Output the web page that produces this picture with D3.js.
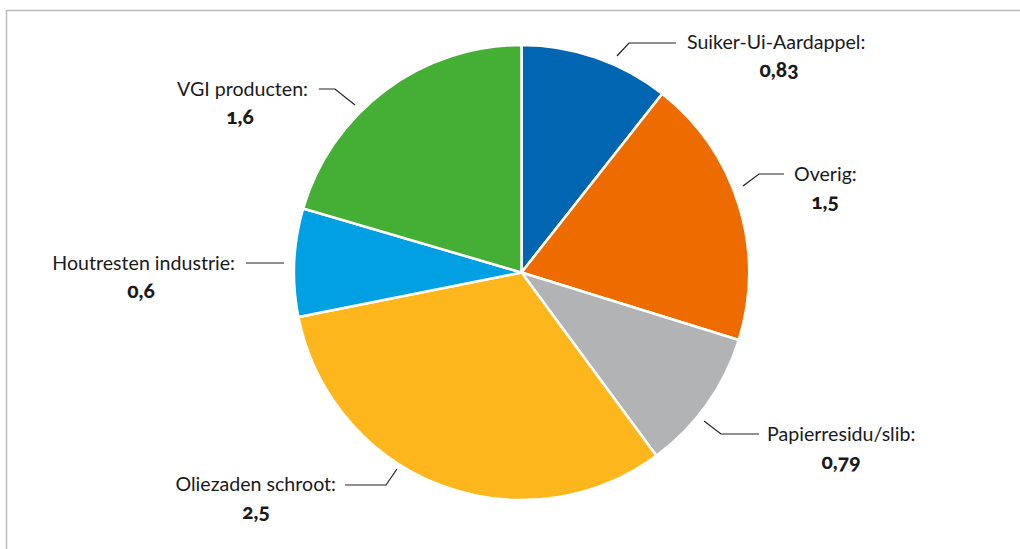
<!DOCTYPE html>
<html>
<head>
<meta charset="utf-8">
<script src="https://cdn.jsdelivr.net/npm/d3@7"></script>
<style>
  html, body { margin: 0; padding: 0; background: #fff; }
  svg { display: block; }
  .lbl { font-family: Lato, "Open Sans", sans-serif; font-size: 19.6px; fill: #1a1a1a; }
  .val { font-weight: 900; font-size: 21px; font-variant-numeric: oldstyle-nums; }
</style>
</head>
<body>
<svg id="chart" width="1020" height="549"></svg>
<script>
// Slice data, clockwise from 12 o'clock
const categories = ["Suiker-Ui-Aardappel", "Overig", "Papierresidu/slib", "Oliezaden schroot", "Houtresten industrie", "VGI producten"];
const values = [0.83, 1.5, 0.79, 2.5, 0.6, 1.6];
const valueLabels = ["0,83", "1,5", "0,79", "2,5", "0,6", "1,6"];
const colors = ["#0066B2", "#EE6B00", "#B2B3B5", "#FDB71C", "#00A0E2", "#45AE35"];

// Label placement: leader path points and text anchor for each slice
const labelLayout = [
  { pts: [[617, 56], [629, 43], [676, 43]], tx: 687, ty: 49, anchor: "start", vx: 779 },
  { pts: [[743, 186], [759, 174], [784, 174]], tx: 794, ty: 181, anchor: "start", vx: 825 },
  { pts: [[704, 421], [721, 434], [759, 434]], tx: 767, ty: 441, anchor: "start", vx: 841 },
  { pts: [[397, 469], [386, 485], [345, 485]], tx: 336, ty: 491, anchor: "end", vx: 256 },
  { pts: [[284, 263], [246, 263]], tx: 235, ty: 270, anchor: "end", vx: 141 },
  { pts: [[355, 105], [335, 89], [319, 89]], tx: 308, ty: 96, anchor: "end", vx: 240 }
];

const svg = d3.select("#chart");
const cx = 521.5, cy = 272.5, R = 227.5;

// Frame lines along the top and left
svg.append("line").attr("x1", 6).attr("x2", 1020).attr("y1", 10.5).attr("y2", 10.5)
  .attr("stroke", "#bdbdbd").attr("stroke-width", 1.5);
svg.append("line").attr("x1", 6.5).attr("x2", 6.5).attr("y1", 10).attr("y2", 549)
  .attr("stroke", "#bdbdbd").attr("stroke-width", 1.5);

const pie = d3.pie().sort(null).value(d => d.value);
const arc = d3.arc().innerRadius(0).outerRadius(R);
const rows = categories.map((c, i) => ({ name: c, value: values[i], label: valueLabels[i], color: colors[i] }));
const arcs = pie(rows);

const g = svg.append("g").attr("transform", `translate(${cx},${cy})`);
g.selectAll("path.slice").data(arcs).enter().append("path")
  .attr("class", "slice")
  .attr("d", arc)
  .attr("fill", d => d.data.color)
  .attr("stroke", "#fff")
  .attr("stroke-width", 2.5)
  .attr("stroke-linejoin", "round");

const line = d3.line();
const lg = svg.append("g");
arcs.forEach((a, i) => {
  const L = labelLayout[i];
  lg.append("path").attr("d", line(L.pts)).attr("fill", "none")
    .attr("stroke", "#222").attr("stroke-width", 1.2);
  lg.append("text").attr("class", "lbl").attr("x", L.tx).attr("y", L.ty)
    .attr("text-anchor", L.anchor).text(a.data.name + ":");
  lg.append("text").attr("class", "lbl val").attr("x", L.vx).attr("y", L.ty + 28)
    .attr("text-anchor", "middle").text(a.data.label);
});
</script>
</body>
</html>
